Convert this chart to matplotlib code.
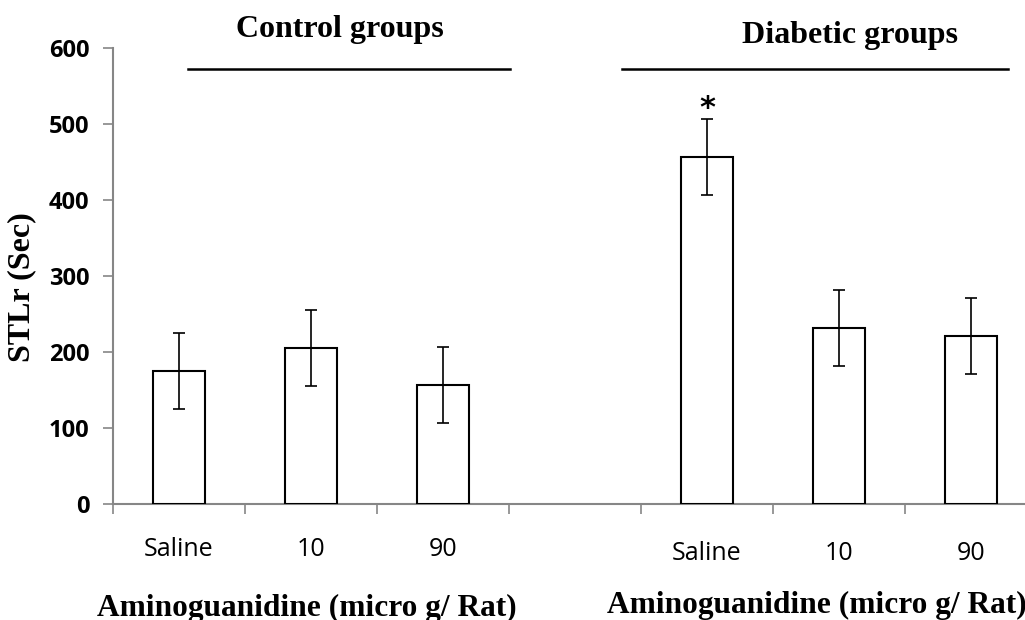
import matplotlib
matplotlib.use("Agg")
import matplotlib.pyplot as plt
import matplotlib.transforms as mtransforms

categories = ["Saline", "10", "90", "", "Saline", "10", "90"]
values = [175, 205, 156, None, 456, 232, 221]
errors = [50, 50, 50, None, 50, 50, 50]
y_ticks = [0, 100, 200, 300, 400, 500, 600]
group_titles = ["Control groups", "Diabetic groups"]
x_title = "Aminoguanidine (micro g/ Rat)"
y_title = "STLr (Sec)"
star_value = 520

W, H = 1025, 620
fig = plt.figure(figsize=(W / 100, H / 100), dpi=100)
ax = fig.add_axes([113 / W, (H - 504) / H, (W - 113) / W, (504 - 48) / H])

xs = [i for i, v in enumerate(values) if v is not None]
vals = [values[i] for i in xs]
errs = [errors[i] for i in xs]
ax.bar(xs, vals, width=0.4, color="white", edgecolor="black", linewidth=1.5, zorder=2)
ax.errorbar(xs, vals, yerr=errs, fmt="none", ecolor="black", elinewidth=1.2,
            capsize=4.5, capthick=1.2, zorder=3)

for s in ["top", "right"]:
    ax.spines[s].set_visible(False)
for s in ["left", "bottom"]:
    ax.spines[s].set_color("#868686")
    ax.spines[s].set_linewidth(1.5)
ax.spines["bottom"].set_zorder(1)

ax.set_yticks(y_ticks)
ax.set_yticklabels([str(t) for t in y_ticks], fontfamily="Open Sans", fontweight="bold", fontsize=17)
ax.tick_params(axis="y", length=7, width=1.2, color="#868686", pad=10)

ax.set_xticks([i - 0.5 for i in range(len(categories) + 1)])
ax.set_xticklabels([])
ax.tick_params(axis="x", length=7, width=1.2, color="#868686")

ax.set_xlim(-0.5, -0.5 + (W - 113) / 132)
ax.set_ylim(0, 600)

for i, c in enumerate(categories):
    if c:
        ypix = 550 if i < 3 else 554
        ax.text(i, -(ypix - 504) / (504 - 48), c,
                transform=mtransforms.blended_transform_factory(ax.transData, ax.transAxes),
                ha="center", va="center", fontfamily="Open Sans", fontsize=18, clip_on=False)

ax.text(4, star_value, "*", ha="center", va="center", fontsize=22, fontweight="bold",
        fontfamily="DejaVu Sans")

# Group lines and titles
line_y = 572
ax.plot([0.068, 2.508], [line_y, line_y], color="black", lw=1.8, clip_on=False)
ax.plot([3.356, 6.28], [line_y, line_y], color="black", lw=1.8, clip_on=False)

serif = "Liberation Serif"
fig.text(340 / W, 1 - 29 / H, group_titles[0], ha="center", va="center",
         fontfamily=serif, fontweight="bold", fontsize=23)
fig.text(850 / W, 1 - 35 / H, group_titles[1], ha="center", va="center",
         fontfamily=serif, fontweight="bold", fontsize=23)

fig.text(97 / W, 1 - 616 / H, x_title, ha="left", va="baseline",
         fontfamily=serif, fontweight="bold", fontsize=22.6)
fig.text(607 / W, 1 - 613 / H, x_title, ha="left", va="baseline",
         fontfamily=serif, fontweight="bold", fontsize=22.6)

fig.text(22 / W, 1 - 287 / H, y_title, ha="center", va="center", rotation=90,
         fontfamily=serif, fontweight="bold", fontsize=23)

fig.savefig("out.png", dpi=100)
